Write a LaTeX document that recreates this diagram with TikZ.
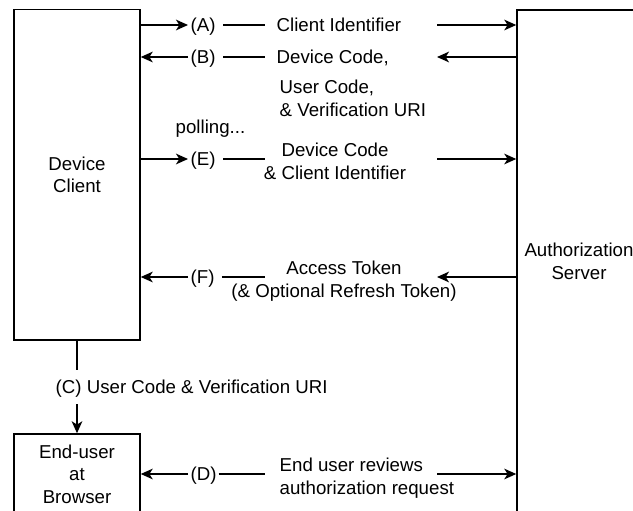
\documentclass[tikz,border=0pt]{standalone}
\usepackage{fontspec}
\setmainfont{Liberation Sans}
\usetikzlibrary{arrows.meta,positioning,calc}
\newcommand\msgfont{\fontsize{14}{17}\selectfont}

\begin{document}
\begin{tikzpicture}[x=0.75pt, y=-0.75pt, line width=1.1pt,
    box/.style={draw, align=center, font=\msgfont, inner sep=0pt},
    tag/.style={font=\msgfont, inner sep=0pt, text height=10pt, text depth=0pt, anchor=west},
    msg/.style={font=\msgfont, inner sep=0pt, text height=10pt, text depth=0pt},
    msgs/.style={font=\msgfont, inner sep=0pt, text depth=0pt},
    tip/.style={-{Stealth[length=9pt, width=8pt, inset=2.5pt]}}]
    \useasboundingbox (0,0) rectangle (633,511);
    \clip (0,0) rectangle (633,511);

    % the three parties
    \node[box, minimum width=94.5pt, minimum height=247.9pt] (dc) at (77,174.75) {Device\\Client};
    \node[box, minimum width=93pt, minimum height=376.5pt] (as) at (579,261) {Authorization\\Server};
    \node[box, minimum width=94.5pt, minimum height=60pt] (eu) at (77,474) {End-user\\at\\Browser};

    \coordinate (cut) at (265,0);
    \coordinate (out) at (437,0);

    % (A)
    \node[tag] (tagA) at (190,25) {(A)};
    \node[msg, anchor=west] (msgA) at (276,25) {Client Identifier};
    \draw[tip] (dc.east |- tagA) -- ([xshift=-1.5pt]tagA.west);
    \draw ([xshift=5pt]tagA.east) -- (cut |- tagA);
    \draw[tip] (out |- tagA) -- (as.west |- tagA);

    % (B)
    \node[tag] (tagB) at (190,57) {(B)};
    \node[msg, anchor=west] (msgB) at (276,57) {Device Code,};
    \node[msgs, anchor=west, align=left] (msgB2) at (279,98) {User Code,\\\& Verification URI};
    \draw[tip] ([xshift=-1.5pt]tagB.west) -- (dc.east |- tagB);
    \draw ([xshift=5pt]tagB.east) -- (cut |- tagB);
    \draw[tip] (as.west |- tagB) -- (out |- tagB);

    \node[msg, anchor=west] (poll) at (175,127) {polling...};

    % (E)
    \node[tag] (tagE) at (190,159) {(E)};
    \node[msgs, align=center] (msgE) at (335,161.5) {Device Code\\\& Client Identifier};
    \draw[tip] (dc.east |- tagE) -- ([xshift=-1.5pt]tagE.west);
    \draw ([xshift=5pt]tagE.east) -- (cut |- tagE);
    \draw[tip] (out |- tagE) -- (as.west |- tagE);

    % (F)
    \node[tag] (tagF) at (190,277) {(F)};
    \node[msgs, align=center] (msgF) at (344,279) {Access Token\\(\& Optional Refresh Token)};
    \draw[tip] ([xshift=-1.5pt]tagF.west) -- (dc.east |- tagF);
    \draw ([xshift=5pt]tagF.east) -- (cut |- tagF);
    \draw[tip] (as.west |- tagF) -- (out |- tagF);

    % (C)
    \node[msg, anchor=west, inner ysep=7.5pt] (msgC) at (55,387) {(C) User Code \& Verification URI};
    \draw (dc.south) -- (dc.south |- msgC.north);
    \draw[tip] (dc.south |- msgC.south) -- (eu.north);

    % (D)
    \node[tag] (tagD) at (190,474) {(D)};
    \node[msgs, anchor=west, align=left] (msgD) at (279,476) {End user reviews\\authorization request};
    \draw[tip] ([xshift=-1.5pt]tagD.west) -- (eu.east |- tagD);
    \draw ([xshift=1pt]tagD.east) -- (cut |- tagD);
    \draw[tip] (out |- tagD) -- (as.west |- tagD);
\end{tikzpicture}
\end{document}
